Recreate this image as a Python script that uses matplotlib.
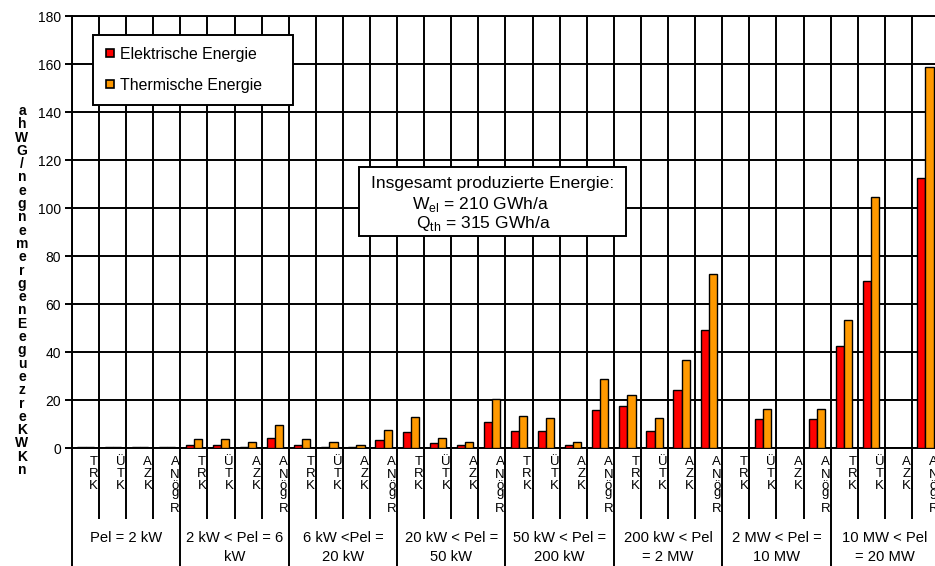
import matplotlib
matplotlib.use("Agg")
import matplotlib.pyplot as plt
from matplotlib.lines import Line2D
from matplotlib.patches import Rectangle
from matplotlib.transforms import blended_transform_factory
import numpy as np

plt.rcParams['font.family'] = ['Liberation Sans', 'DejaVu Sans']

# ---------------- data ----------------
groups = ["Pel = 2 kW", "2 kW < Pel = 6\nkW", "6 kW <Pel =\n20 kW", "20 kW < Pel =\n50 kW",
          "50 kW < Pel =\n200 kW", "200 kW < Pel\n= 2 MW", "2 MW < Pel =\n10 MW", "10 MW < Pel\n= 20 MW"]
subcats = ["TRK", "ÜTK", "AZK", "ANögR"]
elektrisch = [0.3, 0.3, 0.3, 0.3,
              1.3, 1.3, 0.6, 4.1,
              1.3, 0.6, 0.4, 3.5,
              6.5, 2.1, 1.1, 10.8,
              7.1, 7.1, 1.25, 15.7,
              17.4, 7.2, 24.3, 49.2,
              0, 11.9, 0, 11.9,
              42.6, 69.7, 0, 112.5]
thermisch = [0.5, 0.5, 0.5, 0.5,
             3.6, 3.6, 2.3, 9.5,
             3.7, 2.4, 1.25, 7.5,
             12.9, 4.3, 2.5, 20.4,
             13.3, 12.5, 2.5, 28.75,
             22.2, 12.5, 36.8, 72.5,
             0, 16.1, 0, 16.1,
             53.3, 104.6, 0, 158.8]
series_names = ["Elektrische Energie", "Thermische Energie"]
ylabel_chars = list("ahWG/negnemergenEeguezreKWKn")
info_lines = ["Insgesamt produzierte Energie:",
              r"W$_\mathregular{el}$ = 210 GWh/a",
              r"Q$_\mathregular{th}$ = 315 GWh/a"]

RED = "#FF0000"
ORANGE = "#FF9900"
LW = 1.4

W, H = 935, 566
fig = plt.figure(figsize=(W / 100, H / 100), dpi=100)
ax_l, ax_r, ax_t, ax_b = 72, 939, 16, 448
ax = fig.add_axes([ax_l / W, (H - ax_b) / H, (ax_r - ax_l) / W, (ax_b - ax_t) / H])

n = len(elektrisch)
x = np.arange(n)
bw = 0.3
ax.bar(x - bw / 2, elektrisch, bw, color=RED, edgecolor="black", linewidth=1.0, zorder=3)
ax.bar(x + bw / 2, thermisch, bw, color=ORANGE, edgecolor="black", linewidth=1.0, zorder=3)

ax.set_xlim(-0.5, n - 0.5)
ax.set_ylim(0, 180)
ax.set_yticks(np.arange(0, 181, 20))
ax.tick_params(axis="y", labelsize=10, length=5, width=LW, pad=3, color="black")

ng = len(groups)
nsub = len(subcats)
ax.set_xticks(np.arange(ng + 1) * nsub - 0.5)
ax.set_xticks(np.arange(n + 1) - 0.5, minor=True)
ax.tick_params(axis="x", which="major", length=85, width=LW, labelbottom=False, color="black")
ax.tick_params(axis="x", which="minor", length=51, width=LW, labelbottom=False, color="black")

ax.grid(True, axis="y", which="major", color="black", linewidth=LW, zorder=1)
ax.grid(True, axis="x", which="minor", color="black", linewidth=LW, zorder=1)
ax.grid(True, axis="x", which="major", color="black", linewidth=LW, zorder=1)
ax.set_axisbelow(True)
for s in ax.spines.values():
    s.set_linewidth(LW)
    s.set_color("black")

# category labels (stacked letters)
def px_below(p):
    return -(p - ax_b) / (ax_b - ax_t)

tr = blended_transform_factory(ax.transData, ax.transAxes)
offsets = {3: [462, 474, 486], 5: [462, 475, 486, 493, 509]}
for i in range(n):
    lab = subcats[i % nsub]
    ys = offsets[len(lab)]
    for ch, yy in zip(lab, ys):
        ax.text(i + 0.3, px_below(yy), ch, transform=tr, ha="center", va="center",
                fontsize=9.5, clip_on=False)

# group labels
for g, lab in enumerate(groups):
    cx = g * nsub + (nsub - 1) / 2
    for k, line in enumerate(lab.split("\n")):
        ax.text(cx, px_below(538 + 19 * k), line, transform=tr, ha="center", va="center",
                fontsize=10.6, clip_on=False)

# y label stacked letters
y0, y1 = 111, 470
m = len(ylabel_chars)
for k, ch in enumerate(ylabel_chars):
    yy = y0 + (y1 - y0) * k / (m - 1)
    fig.text(22 / W, 1 - yy / H, ch, ha="center", va="center", fontsize=10,
             fontweight="bold")

# legend
handles = [Line2D([], [], ls="none", marker="s", ms=6, mfc=c, mec="black", mew=1.2)
           for c in (RED, ORANGE)]
leg = ax.legend(handles, series_names, loc="upper left",
                bbox_to_anchor=(93 / W, 1 - 35 / H, 200 / W, 0.0001),
                bbox_transform=fig.transFigure, mode="expand",
                frameon=True, fancybox=False, framealpha=1, edgecolor="black",
                fontsize=11.4, handlelength=0.7, handletextpad=0.25, labelspacing=1.0,
                borderpad=0.75, borderaxespad=0)
leg.get_frame().set_linewidth(LW)
leg.set_zorder(5)

# info box
fig.patches.append(Rectangle((359 / W, 1 - 236 / H), (626 - 359) / W, (236 - 167) / H,
                             transform=fig.transFigure, facecolor="white",
                             edgecolor="black", linewidth=LW, zorder=5))
pos = [(493, 183), (481, 204), (483, 224)]
for line, (px, py) in zip(info_lines, pos):
    fig.text(px / W, 1 - py / H, line, ha="center", va="center", fontsize=12.6, zorder=6)

fig.savefig("out.png", dpi=100)
